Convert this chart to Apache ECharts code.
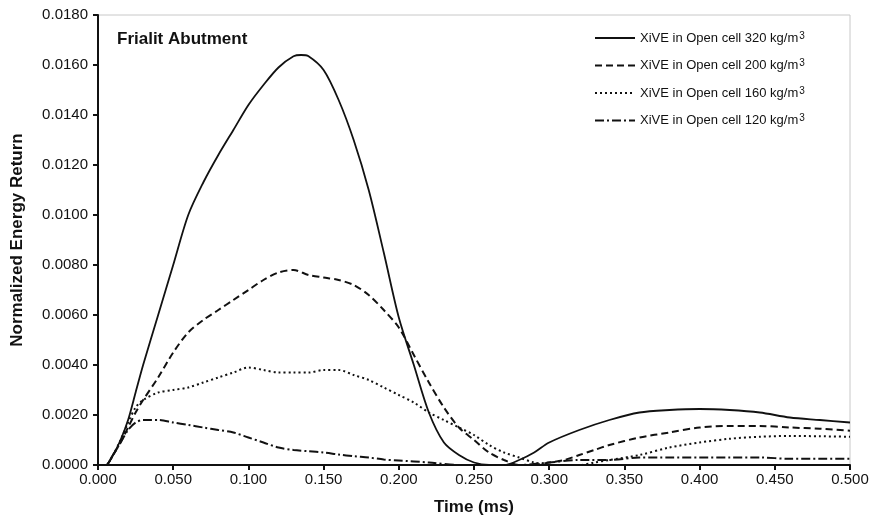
<!DOCTYPE html>
<html>
<head>
<meta charset="utf-8">
<script src="https://cdn.jsdelivr.net/npm/echarts@6/dist/echarts.min.js"></script>
<style>html,body{margin:0;padding:0;background:#fff}#c{width:872px;height:521px}</style>
</head>
<body>
<div id="c"></div>
<script>
// Data (time in ms, normalized energy return)
const seriesNames = [
  'XiVE in Open cell 320 kg/m3',
  'XiVE in Open cell 200 kg/m3',
  'XiVE in Open cell 160 kg/m3',
  'XiVE in Open cell 120 kg/m3'
];
const xTicks = [0, 0.05, 0.1, 0.15, 0.2, 0.25, 0.3, 0.35, 0.4, 0.45, 0.5];
const yTicks = [0, 0.002, 0.004, 0.006, 0.008, 0.010, 0.012, 0.014, 0.016, 0.018];

const t320 = [0,0.005,0.01,0.015,0.02,0.025,0.03,0.04,0.05,0.06,0.07,0.08,0.09,0.10,0.11,0.12,0.13,0.135,0.14,0.15,0.16,0.17,0.18,0.19,0.20,0.21,0.22,0.23,0.24,0.25,0.26,0.27,0.28,0.29,0.30,0.32,0.34,0.36,0.38,0.40,0.42,0.44,0.46,0.48,0.50];
const v320 = [0,0,0.0004,0.0010,0.0018,0.0029,0.0040,0.0060,0.0080,0.0100,0.0113,0.0124,0.0134,0.0144,0.0152,0.0159,0.01635,0.0164,0.01635,0.0158,0.0146,0.0130,0.0110,0.0085,0.0059,0.0040,0.0021,0.0009,0.0004,0.0001,0,0,0.0002,0.0005,0.0009,0.0014,0.0018,0.0021,0.0022,0.00224,0.0022,0.0021,0.0019,0.0018,0.0017];

const t200 = [0,0.005,0.01,0.015,0.02,0.025,0.03,0.04,0.05,0.06,0.07,0.08,0.09,0.10,0.11,0.12,0.13,0.14,0.15,0.16,0.17,0.18,0.19,0.20,0.21,0.22,0.23,0.24,0.25,0.26,0.27,0.28,0.29,0.30,0.31,0.32,0.33,0.34,0.36,0.38,0.40,0.42,0.44,0.46,0.48,0.50];
const v200 = [0,0,0.0004,0.0009,0.0015,0.0021,0.0026,0.0035,0.0045,0.0053,0.0058,0.0062,0.0066,0.0070,0.0074,0.0077,0.0078,0.0076,0.0075,0.0074,0.0072,0.0068,0.0062,0.0055,0.0044,0.0033,0.0023,0.0015,0.0010,0.0005,0.0002,0,0,0.0001,0.0002,0.0004,0.0006,0.0008,0.0011,0.0013,0.0015,0.00156,0.00156,0.0015,0.00145,0.00137];

const t160 = [0,0.005,0.01,0.015,0.02,0.025,0.03,0.04,0.05,0.06,0.07,0.08,0.09,0.10,0.11,0.12,0.13,0.14,0.15,0.16,0.17,0.18,0.19,0.20,0.21,0.22,0.23,0.24,0.25,0.26,0.27,0.28,0.29,0.30,0.32,0.33,0.34,0.36,0.38,0.40,0.42,0.44,0.46,0.48,0.50];
const v160 = [0,0,0.0004,0.0010,0.0017,0.0023,0.0026,0.0029,0.0030,0.0031,0.0033,0.0035,0.0037,0.0039,0.0038,0.0037,0.0037,0.0037,0.0038,0.0038,0.0036,0.0034,0.0031,0.0028,0.0025,0.0021,0.0018,0.0015,0.0012,0.0008,0.0005,0.0003,0.0001,0,0,0.0001,0.0002,0.0004,0.0007,0.0009,0.00105,0.00113,0.00116,0.00115,0.00113];

const t120 = [0,0.005,0.01,0.015,0.02,0.025,0.03,0.035,0.04,0.05,0.06,0.07,0.08,0.09,0.10,0.11,0.12,0.13,0.14,0.15,0.16,0.17,0.18,0.19,0.20,0.22,0.24,0.26,0.28,0.30,0.32,0.34,0.36,0.38,0.40,0.42,0.44,0.46,0.48,0.50];
const v120 = [0,0,0.0004,0.0009,0.0014,0.0017,0.0018,0.0018,0.0018,0.0017,0.0016,0.0015,0.0014,0.0013,0.0011,0.0009,0.0007,0.0006,0.00055,0.0005,0.00042,0.00035,0.0003,0.00022,0.00018,0.0001,0,0,0,0.0001,0.0002,0.0002,0.0003,0.0003,0.0003,0.0003,0.0003,0.00025,0.00025,0.00025];

const times = [t320, t200, t160, t120];
const values = [v320, v200, v160, v120];
const dashStyles = ['solid', [7, 4], [2, 3], [9, 3, 2, 3]];
const widths = [1.8, 2, 2, 2];

const pair = (t, v) => t.map((x, i) => [x, v[i]]);
const FONT = '"Liberation Sans", Arial, sans-serif';

const chart = echarts.init(document.getElementById('c'), null, {renderer: 'canvas'});
chart.setOption({
  animation: false,
  backgroundColor: '#fff',
  title: {
    text: 'Frialit Abutment',
    left: 112, top: 26,
    textStyle: {fontFamily: FONT, fontSize: 17, fontWeight: 'bold', color: '#111'}
  },
  legend: {
    show: true,
    orient: 'vertical',
    left: 589, top: 26,
    itemWidth: 40, itemHeight: 14, itemGap: 14,
    data: seriesNames,
    itemStyle: {opacity: 0},
    formatter: n => n.slice(0, -1) + '{sup|3}',
    textStyle: {
      fontFamily: FONT, fontSize: 13, color: '#111',
      rich: {sup: {fontFamily: FONT, fontSize: 10, verticalAlign: 'top', padding: [0, 0, 4, 1], color: '#111'}}
    }
  },
  grid: {left: 98, right: 22, top: 15, bottom: 56, show: true, borderColor: '#c8c8c8', borderWidth: 1},
  xAxis: {
    type: 'value', min: 0, max: 0.5, interval: 0.05,
    name: 'Time (ms)', nameLocation: 'middle', nameGap: 34,
    nameTextStyle: {fontFamily: FONT, fontSize: 17, fontWeight: 'bold', color: '#111'},
    axisLine: {show: true, onZero: false, lineStyle: {color: '#111', width: 2}},
    axisTick: {show: true, inside: false, length: 5, lineStyle: {color: '#111', width: 2}},
    axisLabel: {fontFamily: FONT, fontSize: 15, color: '#111', margin: 7, formatter: v => v.toFixed(3)},
    splitLine: {show: false}
  },
  yAxis: {
    type: 'value', min: 0, max: 0.018, interval: 0.002,
    name: 'Normalized Energy Return', nameLocation: 'middle', nameGap: 72, nameRotate: 90,
    nameTextStyle: {fontFamily: FONT, fontSize: 17, fontWeight: 'bold', color: '#111'},
    axisLine: {show: true, lineStyle: {color: '#111', width: 2}},
    axisTick: {show: true, inside: false, length: 5, lineStyle: {color: '#111', width: 2}},
    axisLabel: {fontFamily: FONT, fontSize: 15, color: '#111', margin: 10, formatter: v => v.toFixed(4)},
    splitLine: {show: false}
  },
  series: seriesNames.map((n, i) => ({
    name: n, type: 'line', smooth: 0.3, showSymbol: false, symbol: 'none',
    data: pair(times[i], values[i]),
    lineStyle: {color: '#111', width: widths[i], type: dashStyles[i]},
    itemStyle: {color: '#111'},
    z: 3
  }))
});
</script>
</body>
</html>
